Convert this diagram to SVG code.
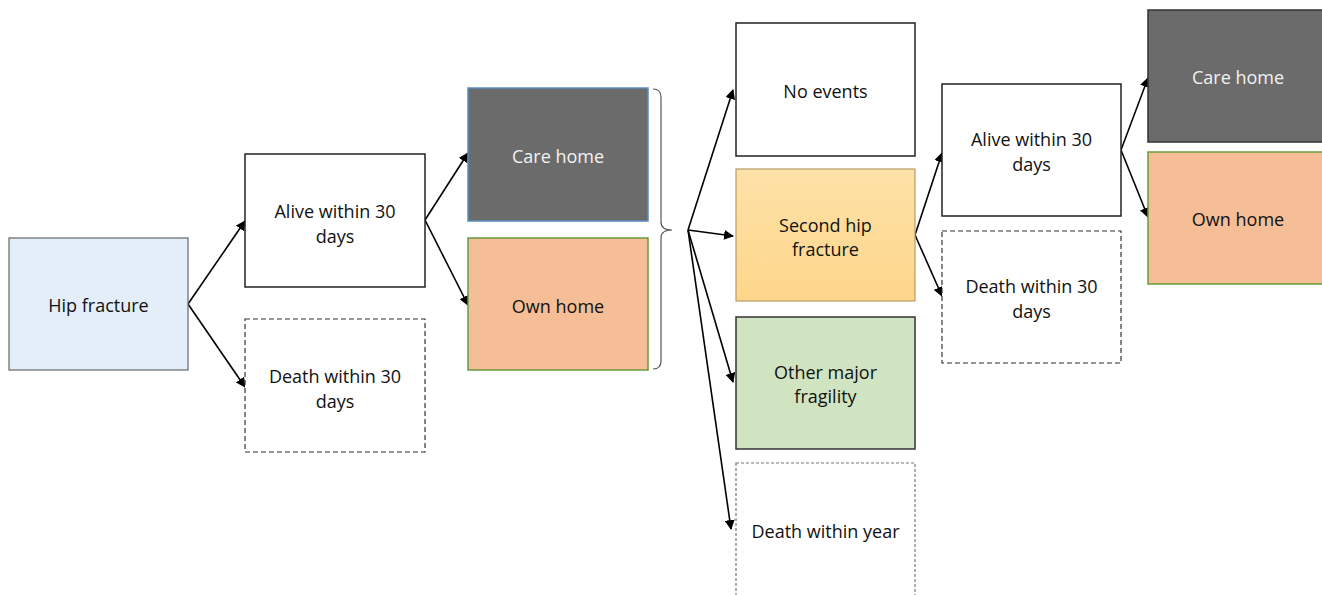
<svg xmlns="http://www.w3.org/2000/svg" width="1322" height="595" viewBox="0 0 1322 595">
  <defs>
    <marker id="arrow" viewBox="0 0 10 10" refX="9" refY="5" markerWidth="10" markerHeight="10" markerUnits="userSpaceOnUse" orient="auto">
      <path d="M0,0 L10,5 L0,10 z" fill="#000"/>
    </marker>
    <linearGradient id="amber" x1="0" y1="0" x2="0" y2="1">
      <stop offset="0" stop-color="#fee2a8"/>
      <stop offset="1" stop-color="#fdd68a"/>
    </linearGradient>
    <style>
      .box { stroke: #222; stroke-width: 1.5; fill: #fff; }
      .dash { stroke: #333; stroke-width: 1.2; fill: #fff; stroke-dasharray: 5 3; }
      .dash-light { stroke: #777; stroke-width: 1.2; fill: #fff; stroke-dasharray: 3 2; }
      .lbl { font-family: "Open Sans", "Noto Sans", sans-serif; font-size: 18px; fill: #111; text-anchor: middle; }
      .lbl-w { fill: #f2f2f2; }
      .conn { stroke: #000; stroke-width: 1.6; fill: none; marker-end: url(#arrow); }
    </style>
  </defs>

  <!-- connectors -->
  <g id="connectors">
    <line class="conn" x1="188" y1="304" x2="245" y2="221"/>
    <line class="conn" x1="188" y1="304" x2="245" y2="387"/>
    <line class="conn" x1="425" y1="220" x2="468" y2="153"/>
    <line class="conn" x1="425" y1="220" x2="468" y2="305"/>
    <line class="conn" x1="688" y1="230" x2="733" y2="90"/>
    <line class="conn" x1="688" y1="230" x2="733" y2="236"/>
    <line class="conn" x1="688" y1="230" x2="733" y2="382"/>
    <line class="conn" x1="688" y1="230" x2="731" y2="529"/>
    <line class="conn" x1="915" y1="235" x2="942" y2="153"/>
    <line class="conn" x1="915" y1="235" x2="942" y2="296"/>
    <line class="conn" x1="1121" y1="150" x2="1148" y2="78"/>
    <line class="conn" x1="1121" y1="150" x2="1148" y2="217"/>
    <!-- bracket grouping the two residence outcomes -->
    <path d="M653,89 Q661,89 661,97 L661,222 Q661,230 672,230 Q661,230 661,238 L661,361 Q661,369 653,369" stroke="#555" stroke-width="1.2" fill="none"/>
  </g>

  <g id="hip-fracture">
    <rect x="9" y="238" width="179" height="132" fill="#e3eef9" stroke="#666" stroke-width="1.2"/>
    <text class="lbl" x="98.5" y="312">Hip fracture</text>
  </g>

  <g id="alive-30-a">
    <rect class="box" x="245" y="154" width="180" height="133"/>
    <text class="lbl" x="335" y="218">Alive within 30</text>
    <text class="lbl" x="335" y="243">days</text>
  </g>

  <g id="death-30-a">
    <rect class="dash" x="245" y="319" width="180" height="133"/>
    <text class="lbl" x="335" y="383">Death within 30</text>
    <text class="lbl" x="335" y="408">days</text>
  </g>

  <g id="care-home-a">
    <rect x="468" y="88" width="180" height="133" fill="#6b6b6b" stroke="#5b8cc0" stroke-width="1.5"/>
    <text class="lbl lbl-w" x="558" y="163">Care home</text>
  </g>

  <g id="own-home-a">
    <rect x="468" y="238" width="180" height="132" fill="#f5be96" stroke="#6a9a3a" stroke-width="1.5"/>
    <text class="lbl" x="558" y="313">Own home</text>
  </g>

  <g id="no-events">
    <rect class="box" x="736" y="23" width="179" height="133"/>
    <text class="lbl" x="825.5" y="98">No events</text>
  </g>

  <g id="second-hip-fracture">
    <rect x="736" y="169" width="179" height="132" fill="url(#amber)" stroke="#b99a66" stroke-width="1.2"/>
    <text class="lbl" x="825.5" y="232">Second hip</text>
    <text class="lbl" x="825.5" y="256">fracture</text>
  </g>

  <g id="other-major-fragility">
    <rect x="736" y="317" width="179" height="132" fill="#d0e4c2" stroke="#333" stroke-width="1.5"/>
    <text class="lbl" x="825.5" y="379">Other major</text>
    <text class="lbl" x="825.5" y="403">fragility</text>
  </g>

  <g id="death-within-year">
    <rect class="dash-light" x="736" y="463" width="179" height="140"/>
    <text class="lbl" x="825.5" y="538">Death within year</text>
  </g>

  <g id="alive-30-b">
    <rect class="box" x="942" y="84" width="179" height="132"/>
    <text class="lbl" x="1031.5" y="146">Alive within 30</text>
    <text class="lbl" x="1031.5" y="171">days</text>
  </g>

  <g id="death-30-b">
    <rect class="dash" x="942" y="231" width="179" height="132"/>
    <text class="lbl" x="1031.5" y="293">Death within 30</text>
    <text class="lbl" x="1031.5" y="318">days</text>
  </g>

  <g id="care-home-b">
    <rect x="1148" y="10" width="180" height="132" fill="#6b6b6b" stroke="#333" stroke-width="1.5"/>
    <text class="lbl lbl-w" x="1238" y="84">Care home</text>
  </g>

  <g id="own-home-b">
    <rect x="1148" y="152" width="180" height="132" fill="#f5be96" stroke="#6a9a3a" stroke-width="1.5"/>
    <text class="lbl" x="1238" y="226">Own home</text>
  </g>
</svg>
